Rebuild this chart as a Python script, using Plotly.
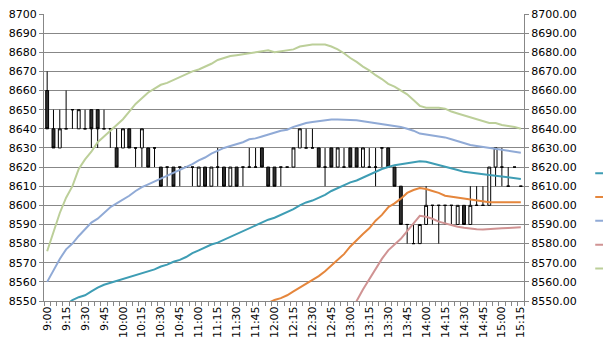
import plotly.graph_objects as go

times = ["9:00","9:05","9:10","9:15","9:20","9:25","9:30","9:35","9:40","9:45","9:50","9:55",
         "10:00","10:05","10:10","10:15","10:20","10:25","10:30","10:35","10:40","10:45","10:50","10:55",
         "11:00","11:05","11:10","11:15","11:20","11:25","11:30","11:35","11:40","11:45","11:50","11:55",
         "12:00","12:05","12:10","12:15","12:20","12:25","12:30","12:35","12:40","12:45","12:50","12:55",
         "13:00","13:05","13:10","13:15","13:20","13:25","13:30","13:35","13:40","13:45","13:50","13:55",
         "14:00","14:05","14:10","14:15","14:20","14:25","14:30","14:35","14:40","14:45","14:50","14:55",
         "15:00","15:05","15:10","15:15"]

open_ = [8660,8640,8630,8640,8650,8640,8640,8650,8650,8640,8640,8630,8630,8640,8630,8630,8630,8630,
         8620,8620,8620,8620,8620,8620,8610,8620,8610,8620,8620,8610,8620,8620,8620,8620,8630,8620,
         8620,8620,8620,8620,8630,8630,8630,8630,8620,8630,8620,8620,8630,8630,8620,8620,8620,8630,
         8630,8620,8610,8590,8580,8580,8590,8600,8600,8600,8600,8590,8600,8590,8600,8600,8600,8620,
         8620,8610,8620,8610]
high = [8670,8650,8650,8660,8650,8650,8650,8650,8650,8650,8640,8640,8640,8640,8630,8640,8630,8630,
        8620,8620,8620,8620,8620,8620,8620,8620,8620,8630,8620,8620,8620,8620,8630,8630,8630,8620,
        8620,8620,8620,8630,8640,8640,8640,8630,8630,8630,8630,8630,8630,8630,8630,8630,8630,8630,
        8630,8620,8610,8590,8590,8590,8610,8600,8600,8600,8600,8600,8600,8610,8610,8610,8620,8630,
        8630,8620,8620,8610]
low = [8640,8630,8630,8640,8640,8640,8640,8630,8630,8640,8630,8620,8630,8630,8620,8620,8620,8620,
       8610,8610,8610,8610,8620,8610,8610,8610,8610,8610,8610,8610,8610,8610,8620,8620,8620,8610,
       8610,8610,8620,8620,8630,8630,8630,8620,8610,8620,8620,8620,8620,8620,8620,8620,8610,8620,
       8620,8610,8590,8580,8580,8580,8590,8590,8580,8590,8590,8590,8590,8590,8600,8600,8600,8610,
       8610,8610,8620,8610]
close = [8640,8630,8640,8640,8650,8650,8640,8640,8640,8640,8640,8620,8640,8630,8630,8640,8620,8630,
         8610,8620,8610,8620,8620,8620,8620,8610,8620,8620,8610,8620,8610,8620,8620,8620,8620,8610,
         8610,8620,8620,8630,8640,8630,8630,8620,8620,8620,8630,8620,8620,8620,8630,8620,8620,8630,
         8620,8610,8590,8590,8580,8590,8600,8600,8600,8600,8600,8600,8590,8600,8600,8600,8620,8630,
         8620,8610,8620,8610]

N = None
ma_teal = [N,N,N,8548,8550.5,8552,8553,8555,8557,8558.5,8559.5,8560.5,8561.5,8562.5,8563.5,8564.5,
           8565.5,8566.5,8568,8569,8570.5,8571.5,8573,8575,8576.5,8578,8579.5,8580.5,8582,8583.5,
           8585,8586.5,8588,8589.5,8591,8592.5,8593.5,8595,8596.5,8598,8600,8601.5,8602.5,8604,
           8605.5,8607.5,8609,8610.5,8612,8613,8614.5,8616,8617.5,8619,8620,8621,8621.5,8622,8622.5,
           8623,8622.8,8622,8621,8620.5,8619.5,8618.5,8617.5,8617,8616.5,8616,8615.8,8615.5,8615,
           8614.8,8614.3,8613.8]
ma_orange = [N]*35 + [8549,8550.5,8551.5,8553,8555,8557,8559,8561,8563,8565.5,8568.5,8571.5,8574.5,
             8578.5,8582,8585,8588,8592,8595,8599,8601,8603.5,8606.5,8608,8609,8608.5,8607.5,8606.5,
             8605,8604.5,8603.8,8603.3,8602.7,8602.2,8601.8,8601.6,8601.6,8601.6,8601.6,8601.6,8601.6]
ma_blue = [8560,8566,8572,8577,8580,8584,8587.5,8591,8593,8596,8599,8601,8603,8605,8607.5,8609.5,
           8611,8612.5,8614,8615.5,8617,8618.5,8620,8621.5,8623.5,8625,8627,8628.5,8630,8631,8632,
           8633,8634.5,8635,8636,8637,8638,8639,8639.5,8641,8642,8643,8643.5,8644,8644.5,8644.8,
           8644.8,8644.8,8644.8,8644.5,8644,8643.5,8643,8642.5,8642,8641.5,8641,8640,8639,8637.5,
           8637,8636.5,8636,8635.5,8634.5,8633.5,8632.5,8631.5,8631,8630.5,8630,8629.5,8629,8628.5,
           8628,8627.5]
ma_pink = [N]*48 + [8545,8550,8556,8561.5,8567,8572,8576.5,8579.5,8582.5,8586.5,8590.5,8594.5,8594,
           8593,8591.5,8590.5,8589.5,8588.8,8588.3,8587.8,8587.5,8587.4,8587.5,8587.7,8588,8588.2,
           8588.4,8588.5]
ma_green = [8576,8586,8596,8604,8610,8619,8624,8628,8633,8636,8639,8642,8645,8649,8653,8656,8659,
            8661,8663,8664,8665.5,8667,8668.5,8670,8671,8672.5,8674,8676,8677,8678,8678.5,8679,
            8679.5,8680,8680.5,8681,8680,8680.5,8681,8681.5,8683,8683.5,8684,8684,8684,8683,8681.5,
            8679.5,8677,8675,8672.5,8670.5,8668,8666,8663.5,8662,8660,8658,8655,8652,8651,8651,8651,
            8650.5,8649,8648,8647,8646,8645,8644,8643,8643,8642,8641.5,8641,8640]

# legend texts are cut off by the window edge in the reference, so only the keys show
series = [(" ", ma_teal, "#3E9DB4"), (" ", ma_orange, "#E5863C"),
          (" ", ma_blue, "#90AAD6"), (" ", ma_pink, "#D09393"),
          (" ", ma_green, "#BCCF99")]

y_ticks = list(range(8550, 8701, 10))
x = list(range(len(times)))
GRID = "#878787"
FONT = dict(family="DejaVu Sans", size=11, color="#000000")

fig = go.Figure()
fig.add_trace(go.Candlestick(
    x=x, open=open_, high=high, low=low, close=close,
    increasing=dict(fillcolor="#FFFFFF", line=dict(color="#000000", width=1)),
    decreasing=dict(fillcolor="#2E2E2E", line=dict(color="#000000", width=1)),
    whiskerwidth=0, showlegend=False, hoverinfo="skip"))

for name, vals, col in series:
    fig.add_trace(go.Scatter(x=x, y=vals, mode="lines", name=name, yaxis="y2",
                             line=dict(color=col, width=2), connectgaps=False))

fig.update_layout(
    width=603, height=345,
    margin=dict(l=44, r=79, t=14, b=44, autoexpand=False),
    paper_bgcolor="#FFFFFF", plot_bgcolor="#FFFFFF",
    font=FONT,
    boxgap=0.35,
    showlegend=True,
    legend=dict(x=1.138, xanchor="left", y=0.504, yanchor="top",
                font=dict(family="DejaVu Sans", size=16), bgcolor="rgba(0,0,0,0)",
                borderwidth=0, tracegroupgap=0),
    xaxis=dict(range=[-0.5, len(times) - 0.5], tickmode="array",
               tickvals=x[::3], ticktext=times[::3], tickangle=-90,
               ticks="", showgrid=False, showline=True, linecolor=GRID, linewidth=1,
               zeroline=False, rangeslider=dict(visible=False), tickfont=FONT,
               minor=dict(ticks="outside", tick0=-0.5, dtick=1, ticklen=4,
                          tickcolor=GRID, tickwidth=1, showgrid=False)),
    yaxis=dict(range=[8550, 8700], tickmode="array", tickvals=y_ticks,
               ticktext=[str(v) for v in y_ticks], showgrid=True, gridcolor=GRID,
               gridwidth=1, showline=True, linecolor=GRID, linewidth=1, ticks="outside",
               ticklen=4, tickcolor=GRID, zeroline=False, tickfont=FONT),
    yaxis2=dict(range=[8550, 8700], overlaying="y", side="right", tickmode="array",
                tickvals=y_ticks, ticktext=["%.2f" % v for v in y_ticks], showgrid=False,
                showline=True, linecolor=GRID, linewidth=1, ticks="outside", ticklen=4,
                tickcolor=GRID, zeroline=False, tickfont=FONT),
)

fig.write_html("out.html")
